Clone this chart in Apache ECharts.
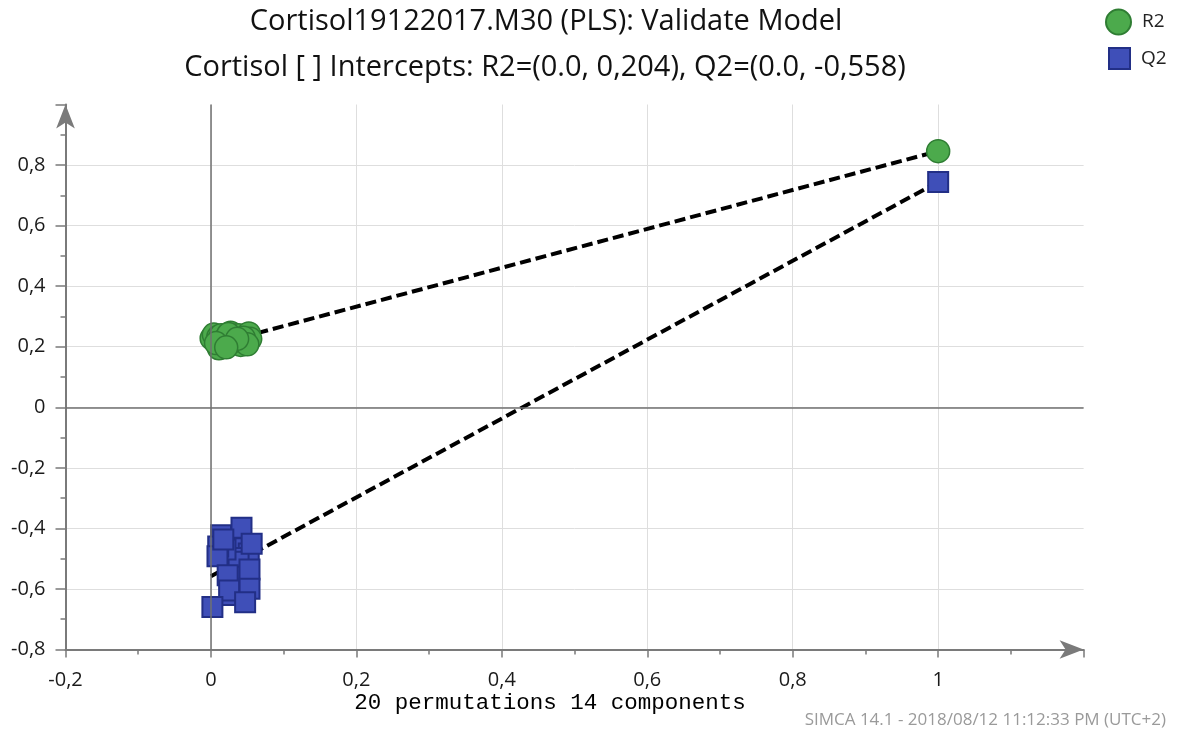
<!DOCTYPE html>
<html>
<head>
<meta charset="utf-8">
<title>Cortisol19122017.M30 (PLS): Validate Model</title>
<script src="https://cdn.jsdelivr.net/npm/echarts@6/dist/echarts.min.js"></script>
<style>
  html, body { margin: 0; padding: 0; background: #fff; }
  #chart { width: 1182px; height: 736px; }
</style>
</head>
<body>
<div id="chart"></div>
<script>
// Permutation test: R2 / Q2 of the 20 permuted models plotted against the
// correlation between the original and the permuted response.
const r2PermX = [0.001, 0.004, 0.010, 0.014, 0.018, 0.011, 0.027, 0.033, 0.038, 0.041,
                 0.048, 0.052, 0.054, 0.045, 0.030, 0.024, 0.007, 0.050, 0.036, 0.021];
const r2PermY = [0.228, 0.240, 0.232, 0.238, 0.222, 0.195, 0.246, 0.236, 0.238, 0.206,
                 0.214, 0.244, 0.226, 0.230, 0.218, 0.242, 0.212, 0.208, 0.226, 0.198];
const q2PermX = [0.014, 0.032, 0.052, 0.025, 0.031, 0.038, 0.020, 0.045, 0.010, 0.028,
                 0.009, 0.053, 0.023, 0.053, 0.025, 0.042, 0.017, 0.056, 0.047, 0.002];
const q2PermY = [-0.423, -0.466, -0.483, -0.529, -0.498, -0.510, -0.470, -0.560, -0.460, -0.620,
                 -0.492, -0.536, -0.555, -0.599, -0.605, -0.398, -0.437, -0.451, -0.644, -0.660];

// Original (unpermuted) model, at correlation 1
const modelX = 1;
const modelR2 = 0.846;
const modelQ2 = 0.744;

// Regression intercepts
const r2Intercept = 0.204;
const q2Intercept = -0.558;

// Axis tick values
const xTicks = [-0.2, 0, 0.2, 0.4, 0.6, 0.8, 1, 1.2];
const yTicks = [-0.8, -0.6, -0.4, -0.2, 0, 0.2, 0.4, 0.6, 0.8, 1.0];

const titleLine1 = 'Cortisol19122017.M30 (PLS): Validate Model';
const titleLine2 = 'Cortisol [ ] Intercepts: R2=(0.0, 0,204), Q2=(0.0, -0,558)';
const xAxisName = '20 permutations 14 components';
const footer = 'SIMCA 14.1 - 2018/08/12 11:12:33 PM (UTC+2)';

const FONT = '"Open Sans", "Noto Sans", sans-serif';
const GREEN = '#4caa4c';
const GREEN_EDGE = '#2f7d33';
const BLUE = '#3f4fb8';
const BLUE_EDGE = '#222f86';
const AXIS = '#7a7a7a';

function fmt(v) {
  const r = Math.round(v * 10) / 10;
  if (Math.abs(r) < 1e-9) return '0';
  return String(r).replace('.', ',');
}

const zip = (xs, ys) => xs.map((x, i) => [x, ys[i]]);

const chart = echarts.init(document.getElementById('chart'), null, { renderer: 'canvas' });

chart.setOption({
  backgroundColor: '#fff',
  animation: false,
  textStyle: { fontFamily: FONT },
  grid: { left: 65.5, right: 98.4, top: 104.5, bottom: 86.5, containLabel: false },
  legend: [
    {
      data: [{ name: 'R2', icon: 'circle' }],
      left: 1105, top: 8.5, padding: 0,
      itemWidth: 25, itemHeight: 25,
      textStyle: { fontSize: 19, color: '#222', fontFamily: FONT, padding: [0, 0, 0, 6] }
    },
    {
      data: [{ name: 'Q2', icon: 'rect' }],
      left: 1108, top: 47, padding: 0,
      itemWidth: 21, itemHeight: 21,
      textStyle: { fontSize: 19, color: '#222', fontFamily: FONT, padding: [0, 0, 0, 6] }
    }
  ],
  xAxis: {
    type: 'value',
    min: xTicks[0], max: xTicks[xTicks.length - 1], interval: 0.2,
    axisLine: {
      show: true, onZero: false,
      symbol: ['none', 'arrow'], symbolSize: [14, 24], symbolOffset: [0, 0],
      lineStyle: { color: AXIS, width: 2 }
    },
    axisTick: { show: true, length: 8, lineStyle: { color: AXIS, width: 1.5 } },
    minorTick: { show: true, splitNumber: 2, length: 5, lineStyle: { color: AXIS, width: 1.5 } },
    splitLine: { show: true, showMaxLine: false, showMinLine: false, lineStyle: { color: '#dedede', width: 1 } },
    axisLabel: {
      margin: 21, fontSize: 20, color: '#1a1a1a', fontFamily: FONT,
      showMaxLabel: false, formatter: fmt
    }
  },
  yAxis: {
    type: 'value',
    min: yTicks[0], max: yTicks[yTicks.length - 1], interval: 0.2,
    axisLine: {
      show: true, onZero: false,
      symbol: ['none', 'arrow'], symbolSize: [14, 24], symbolOffset: [0, 0],
      lineStyle: { color: AXIS, width: 2 }
    },
    axisTick: { show: true, length: 10, lineStyle: { color: AXIS, width: 1.5 } },
    minorTick: { show: true, splitNumber: 2, length: 5, lineStyle: { color: AXIS, width: 1.5 } },
    splitLine: { show: true, showMaxLine: false, showMinLine: false, lineStyle: { color: '#dedede', width: 1 } },
    axisLabel: {
      margin: 20, fontSize: 20, color: '#1a1a1a', fontFamily: FONT,
      showMaxLabel: false, formatter: fmt
    }
  },
  graphic: [
    { type: 'text', silent: true,
      style: { text: titleLine1, x: 546, y: 22, align: 'center', verticalAlign: 'middle',
               font: '29px ' + FONT, fill: '#111' } },
    { type: 'text', silent: true,
      style: { text: titleLine2, x: 545, y: 68, align: 'center', verticalAlign: 'middle',
               font: '29px ' + FONT, fill: '#111' } },
    { type: 'text', silent: true,
      style: { text: xAxisName, x: 550, y: 703, align: 'center', verticalAlign: 'middle',
               font: '22.5px "Liberation Mono", "DejaVu Sans Mono", monospace', fill: '#000' } },
    { type: 'text', silent: true,
      style: { text: footer, x: 1166, y: 720, align: 'right', verticalAlign: 'middle',
               font: '17px ' + FONT, fill: '#9a9a9a' } }
  ],
  series: [
    {
      // zero cross-hair lines
      name: 'origin', type: 'scatter', data: [], silent: true, z: 1,
      markLine: {
        silent: true, symbol: 'none', animation: false,
        label: { show: false },
        lineStyle: { color: '#707070', width: 1.5, type: 'solid' },
        data: [{ xAxis: 0 }, { yAxis: 0 }]
      }
    },
    {
      name: 'R2 line', type: 'line', z: 2, symbol: 'none', silent: true,
      data: [[0, r2Intercept], [modelX, modelR2]],
      lineStyle: { color: '#000', width: 4, type: [11, 5] }
    },
    {
      name: 'Q2 line', type: 'line', z: 2, symbol: 'none', silent: true,
      data: [[0, q2Intercept], [modelX, modelQ2]],
      lineStyle: { color: '#000', width: 4, type: [11, 5] }
    },
    {
      name: 'R2', type: 'scatter', z: 3, symbol: 'circle', symbolSize: 23,
      data: zip(r2PermX, r2PermY).concat([[modelX, modelR2]]),
      itemStyle: { color: GREEN, borderColor: GREEN_EDGE, borderWidth: 1.5, opacity: 1 }
    },
    {
      name: 'Q2', type: 'scatter', z: 3, symbol: 'rect', symbolSize: 20,
      data: zip(q2PermX, q2PermY).concat([[modelX, modelQ2]]),
      itemStyle: { color: BLUE, borderColor: BLUE_EDGE, borderWidth: 2, opacity: 1 }
    }
  ]
});
</script>
</body>
</html>
